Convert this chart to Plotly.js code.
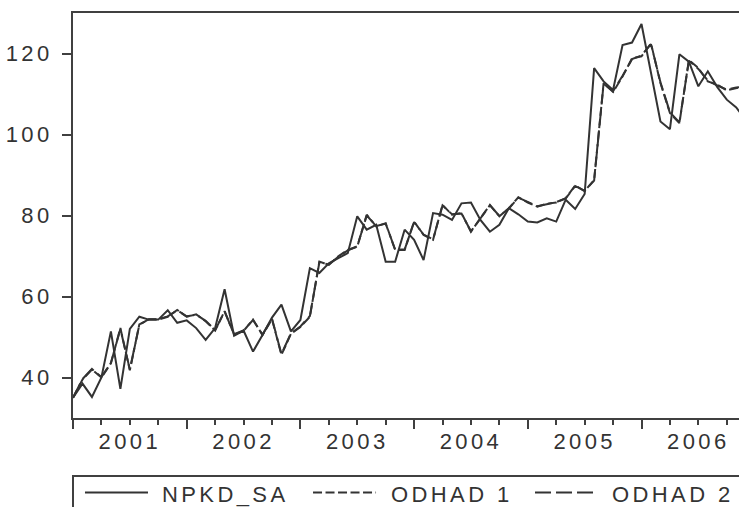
<!DOCTYPE html>
<html>
<head>
<meta charset="utf-8">
<script src="https://cdn.plot.ly/plotly-3.0.1.min.js"></script>
<style>
  html, body { margin: 0; padding: 0; background: #ffffff; }
  #chart { width: 739px; height: 507px; }
  svg text { letter-spacing: 3.4px; }
</style>
</head>
<body>
<div id="chart"></div>
<script>
// Monthly observations, 2001M01 onward
const startYear = 2001;
const years = ['2001', '2002', '2003', '2004', '2005', '2006'];
const yTicks = [40, 60, 80, 100, 120];
const seriesNames = ['NPKD_SA', 'ODHAD 1', 'ODHAD 2'];

const npkdSA = [
  35.0, 38.5, 35.2, 40.0, 51.4, 37.2, 52.0, 55.0, 54.3, 54.3, 56.6, 53.5,
  54.1, 52.2, 49.3, 52.2, 61.8, 50.3, 51.6, 46.4, 50.5, 54.8, 58.0, 51.4,
  54.2, 67.0, 65.8, 68.2, 69.5, 70.7, 79.8, 76.5, 77.7, 68.6, 68.6, 76.5,
  74.0, 69.0, 80.6, 80.2, 78.9, 83.0, 83.2, 78.9, 76.0, 77.7, 81.8, 80.3,
  78.5, 78.3, 79.3, 78.5, 83.9, 81.6, 85.3, 116.4, 113.1, 111.0, 122.1, 122.7,
  127.3, 115.6, 103.2, 101.3, 119.8, 118.0, 111.9, 115.6, 111.7, 108.6, 106.7, 103.5
];

const odhad1 = [
  35.0, 39.5, 42.0, 40.0, 43.5, 52.2, 41.8, 53.1, 54.3, 54.3, 55.0, 56.7,
  55.0, 55.6, 53.9, 51.6, 56.4, 50.6, 51.5, 54.3, 50.5, 54.4, 45.6, 50.8,
  52.5, 55.0, 68.6, 67.8, 69.9, 71.5, 72.3, 80.2, 77.3, 78.1, 71.5, 71.5,
  78.5, 75.2, 74.0, 82.6, 80.2, 80.6, 76.0, 79.3, 82.6, 79.8, 81.8, 84.5,
  83.2, 82.2, 82.9, 83.2, 84.3, 87.4, 86.0, 88.8, 112.7, 110.5, 114.3, 118.8,
  119.3, 122.5, 112.7, 105.3, 102.8, 118.4, 116.4, 113.1, 112.3, 110.9, 111.4, 112.0
];

const odhad2 = [
  35.0, 39.6, 42.1, 40.1, 43.6, 52.0, 42.0, 53.0, 54.4, 54.4, 55.1, 56.6,
  55.1, 55.5, 54.0, 51.7, 56.3, 50.7, 51.6, 54.2, 50.6, 54.5, 45.8, 50.9,
  52.6, 55.2, 68.4, 67.9, 69.8, 71.4, 72.4, 80.0, 77.4, 78.0, 71.6, 71.6,
  78.4, 75.3, 74.1, 82.5, 80.3, 80.5, 76.1, 79.2, 82.5, 79.9, 81.7, 84.4,
  83.3, 82.3, 82.8, 83.3, 84.2, 87.3, 86.1, 88.6, 112.5, 110.7, 114.5, 118.6,
  119.5, 122.3, 112.9, 105.5, 103.0, 118.2, 116.2, 113.3, 112.1, 111.1, 111.6, 111.8
];

// month index of each observation (0 = 2001M01)
const monthIndex = npkdSA.map((_, i) => i);
const yearStarts = years.map(y => (parseInt(y, 10) - startYear) * 12);
const yearCenters = yearStarts.map(v => v + 6);

const ink = '#333333';
const axisInk = '#404040';
const font = { family: 'Liberation Sans, Arial, Helvetica, sans-serif', size: 22, color: ink };
const xRange = [0, 70.29];
const dashes = ['solid', '9px,3.5px', '16px,5px'];

// legend layout (paper coordinates), drawn as a framed key below the plot
const legendTop = -0.1432;
const keyY = -0.184;
const keyTextY = -0.1877;
const keySpans = [[0.018, 0.1126], [0.3604, 0.4550], [0.6937, 0.7868]];
const keyTextX = [0.1306, 0.4745, 0.8063];

const traces = [0, 1, 2].map(k => ({
  x: monthIndex, y: [npkdSA, odhad1, odhad2][k], name: seriesNames[k],
  type: 'scatter', mode: 'lines', showlegend: false, hoverinfo: 'skip',
  line: { color: ink, width: 2, dash: dashes[k] }
}));
traces.push({ x: [], y: [], xaxis: 'x2', yaxis: 'y', showlegend: false, hoverinfo: 'skip', type: 'scatter' });

const shapes = [
  { type: 'rect', xref: 'paper', yref: 'paper', x0: 0, x1: 1.1, y0: legendTop, y1: -0.4,
    line: { color: axisInk, width: 2 }, fillcolor: 'rgba(0,0,0,0)', layer: 'above' }
];
const annotations = [];
seriesNames.forEach((name, k) => {
  shapes.push({ type: 'line', xref: 'paper', yref: 'paper',
    x0: keySpans[k][0], x1: keySpans[k][1], y0: keyY, y1: keyY,
    line: { color: ink, width: 2, dash: dashes[k] }, layer: 'above' });
  annotations.push({ xref: 'paper', yref: 'paper', x: keyTextX[k], y: keyTextY,
    xanchor: 'left', yanchor: 'middle', showarrow: false, text: name, font: font });
});

const layout = {
  width: 739, height: 507,
  margin: { l: 73, r: 0, t: 13, b: 89, pad: 0 },
  paper_bgcolor: '#ffffff', plot_bgcolor: '#ffffff',
  font: font,
  showlegend: false,
  xaxis: {
    range: xRange, showgrid: false, zeroline: false,
    showline: true, linecolor: axisInk, linewidth: 2, mirror: true,
    tickmode: 'array', tickvals: yearStarts, showticklabels: false,
    ticks: 'outside', ticklen: 9, tickwidth: 2, tickcolor: axisInk,
    minor: { dtick: 3, tick0: 0, ticks: 'outside', ticklen: 5, tickwidth: 2, tickcolor: axisInk, showgrid: false }
  },
  xaxis2: {
    range: xRange, overlaying: 'x', anchor: 'y', side: 'bottom',
    showgrid: false, zeroline: false, showline: false,
    tickmode: 'array', tickvals: yearCenters, ticktext: years,
    ticks: '', ticklabelstandoff: 8, tickfont: font
  },
  yaxis: {
    range: [30, 130], showgrid: false, zeroline: false,
    showline: true, linecolor: axisInk, linewidth: 2,
    tickmode: 'array', tickvals: yTicks,
    ticks: 'outside', ticklen: 9, tickwidth: 2, tickcolor: axisInk,
    ticklabelstandoff: 5, tickfont: font
  },
  shapes: shapes,
  annotations: annotations
};

Plotly.newPlot('chart', traces, layout, { staticPlot: true, displayModeBar: false });
</script>
</body>
</html>
